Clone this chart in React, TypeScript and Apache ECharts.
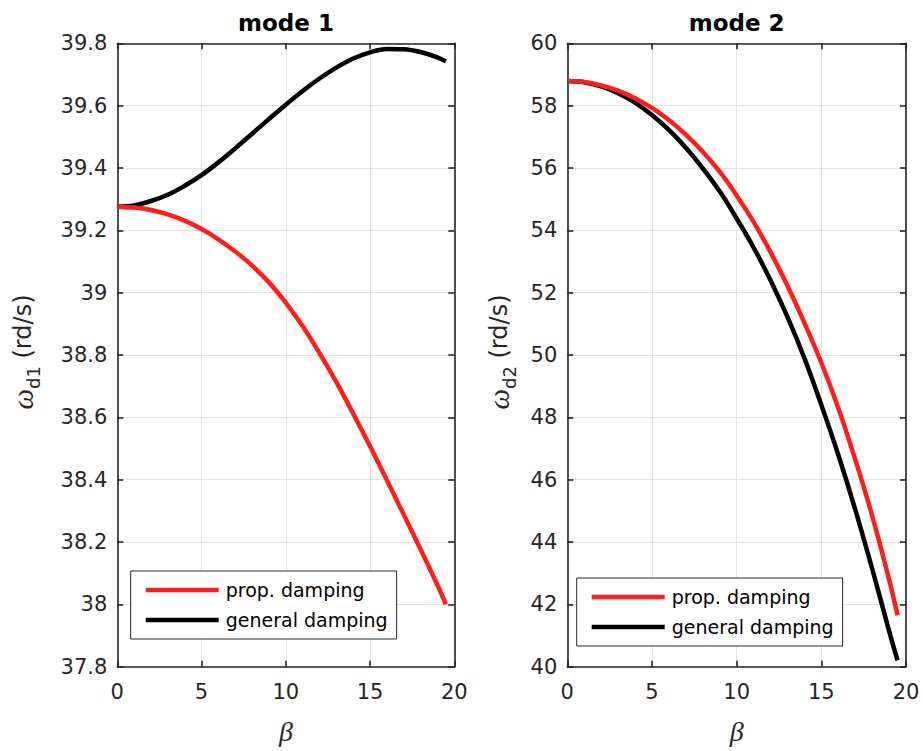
import React, { useEffect, useRef } from "react";
import * as echarts from "echarts";

// beta values (x)
const BETA = [0, 1, 2, 3, 4, 5, 6, 7, 8, 9, 10, 11, 12, 13, 14, 15, 16, 17, 18, 19, 19.5];

// mode 1
const MODE1_PROP = [39.276, 39.273, 39.265, 39.251, 39.231, 39.204, 39.171, 39.132, 39.087, 39.033, 38.968, 38.892, 38.806, 38.713, 38.612, 38.507, 38.398, 38.288, 38.176, 38.062, 38.0];
const MODE1_GEN = [39.276, 39.28, 39.294, 39.314, 39.343, 39.377, 39.418, 39.463, 39.51, 39.557, 39.603, 39.647, 39.687, 39.722, 39.751, 39.771, 39.782, 39.781, 39.772, 39.755, 39.742];

// mode 2
const MODE2_PROP = [58.79, 58.76, 58.65, 58.48, 58.24, 57.93, 57.54, 57.07, 56.52, 55.88, 55.12, 54.27, 53.3, 52.22, 51.03, 49.75, 48.3, 46.65, 44.85, 42.8, 41.65];
const MODE2_GEN = [58.79, 58.75, 58.62, 58.4, 58.1, 57.7, 57.22, 56.65, 55.99, 55.25, 54.38, 53.45, 52.4, 51.22, 49.9, 48.4, 46.8, 45.05, 43.15, 41.15, 40.2];

const SERIES_NAMES = ["prop. damping", "general damping"];
const TITLES = ["mode 1", "mode 2"];
const X_AXIS = { min: 0, max: 20, interval: 5 };
const Y1_AXIS = { min: 37.8, max: 39.8, interval: 0.2 };
const Y2_AXIS = { min: 40, max: 60, interval: 2 };

const AX = "#262626";
const RED = "#ff1f1a";
const FONT = "DejaVu Sans";

const pairs = (xs: number[], ys: number[]) => xs.map((x, i) => [x, ys[i]]);

export default function App() {
  const ref = useRef<HTMLDivElement>(null);
  useEffect(() => {
    if (!ref.current) return;
    const chart = echarts.init(ref.current, undefined, { renderer: "svg" });
    const grids = [
      { left: 117.3, top: 43.3, width: 337, height: 623.4 },
      { left: 567.3, top: 43.3, width: 338.7, height: 623.4 },
    ];
    const xAxes: any[] = [];
    const yAxes: any[] = [];
    const yDefs = [Y1_AXIS, Y2_AXIS];
    grids.forEach((_, g) => {
      xAxes.push({
        type: "value", gridIndex: g, position: "bottom", ...X_AXIS,
        axisLine: { show: true, onZero: false, lineStyle: { color: AX, width: 1.6 } },
        axisTick: { show: true, inside: true, length: 6, lineStyle: { color: AX, width: 1.6 } },
        axisLabel: { color: AX, fontSize: 21, fontFamily: FONT, margin: 15 },
        splitLine: { show: true, lineStyle: { color: "#e3e3e3", width: 1 } },
      });
      xAxes.push({
        type: "value", gridIndex: g, position: "top", ...X_AXIS,
        axisLine: { show: true, onZero: false, lineStyle: { color: AX, width: 1.6 } },
        axisTick: { show: true, inside: true, length: 6, lineStyle: { color: AX, width: 1.6 } },
        axisLabel: { show: false },
        splitLine: { show: false },
      });
      yAxes.push({
        type: "value", gridIndex: g, position: "left", ...yDefs[g],
        axisLine: { show: true, onZero: false, lineStyle: { color: AX, width: 1.6 } },
        axisTick: { show: true, inside: true, length: 6, lineStyle: { color: AX, width: 1.6 } },
        axisLabel: { color: AX, fontSize: 21, fontFamily: FONT, margin: 10 },
        splitLine: { show: true, lineStyle: { color: "#e3e3e3", width: 1 } },
      });
      yAxes.push({
        type: "value", gridIndex: g, position: "right", ...yDefs[g],
        axisLine: { show: true, onZero: false, lineStyle: { color: AX, width: 1.6 } },
        axisTick: { show: true, inside: true, length: 6, lineStyle: { color: AX, width: 1.6 } },
        axisLabel: { show: false },
        splitLine: { show: false },
      });
    });
    const mk = (name: string, color: string, data: number[], g: number) => ({
      type: "line", name, xAxisIndex: g * 2, yAxisIndex: g * 2,
      data: pairs(BETA, data), showSymbol: false, symbol: "none", smooth: 0.35,
      lineStyle: { color, width: 4.5, cap: "butt" }, itemStyle: { color },
      z: name === SERIES_NAMES[1] ? 3 : 4,
    });
    const legendBase = {
      orient: "vertical", icon: "rect", itemWidth: 73, itemHeight: 4.5, itemGap: 10,
      padding: [9, 9, 9, 15], borderColor: AX, borderWidth: 1, backgroundColor: "#fff",
      data: SERIES_NAMES, selectedMode: false,
      textStyle: { fontSize: 19, fontFamily: FONT, color: "#000", lineHeight: 20, padding: [0, 0, 0, 2] },
    };
    const yLabel = (x: number, sub: string) => ({
      type: "text", x, y: 352, rotation: Math.PI / 2,
      style: {
        text: `{w|ω}{s|${sub}}{t| (rd/s)}`,
        align: "center", verticalAlign: "middle", fill: AX,
        rich: {
          w: { fontFamily: "Liberation Serif", fontStyle: "italic", fontSize: 29, lineHeight: 38, fill: AX },
          s: { fontFamily: FONT, fontSize: 18, lineHeight: 18, verticalAlign: "bottom", fill: AX },
          t: { fontFamily: FONT, fontSize: 24, lineHeight: 38, fill: AX },
        },
      },
    });
    chart.setOption({
      animation: false,
      backgroundColor: "#fff",
      grid: grids,
      xAxis: xAxes,
      yAxis: yAxes,
      legend: [
        { ...legendBase, left: 130.7, top: 571 },
        { ...legendBase, left: 576.7, top: 578 },
      ],
      series: [
        mk(SERIES_NAMES[0], RED, MODE1_PROP, 0),
        mk(SERIES_NAMES[1], "#000", MODE1_GEN, 0),
        mk(SERIES_NAMES[0], RED, MODE2_PROP, 1),
        mk(SERIES_NAMES[1], "#000", MODE2_GEN, 1),
      ],
      graphic: [
        { type: "text", x: 286, y: 23, style: { text: TITLES[0], font: `bold 23px ${FONT}`, fill: "#000", align: "center", verticalAlign: "middle" } },
        { type: "text", x: 736.7, y: 23, style: { text: TITLES[1], font: `bold 23px ${FONT}`, fill: "#000", align: "center", verticalAlign: "middle" } },
        { type: "text", x: 286, y: 731, style: { text: "β", font: `italic 28px Liberation Serif`, fill: AX, align: "center", verticalAlign: "middle" } },
        { type: "text", x: 736.7, y: 731, style: { text: "β", font: `italic 28px Liberation Serif`, fill: AX, align: "center", verticalAlign: "middle" } },
        yLabel(23, "d1"),
        yLabel(499, "d2"),
      ],
    });
    return () => chart.dispose();
  }, []);
  return <div ref={ref} style={{ position: "fixed", left: 0, top: 0, width: 923, height: 751 }} />;
}
